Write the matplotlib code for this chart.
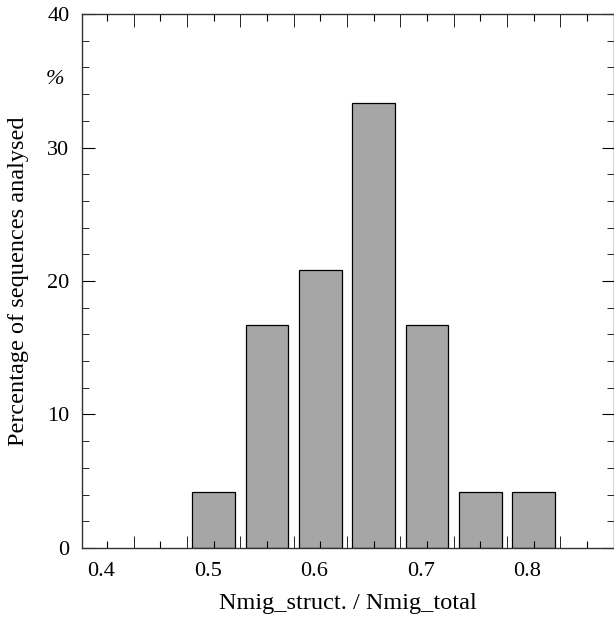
import numpy as np
import matplotlib
matplotlib.use("Agg")
import matplotlib.pyplot as plt
from matplotlib.transforms import ScaledTranslation

# bin centres and share of sequences (%) in each bin
ratio_bins = [0.50, 0.55, 0.60, 0.65, 0.70, 0.75, 0.80]
percent = [4.17, 16.67, 20.83, 33.33, 16.67, 4.17, 4.17]
y_ticks = [0, 10, 20, 30, 40]

plt.rcParams['font.family'] = ['Liberation Serif', 'DejaVu Serif']
plt.rcParams['font.size'] = 16

fig = plt.figure(figsize=(6.14, 6.18), dpi=100)
ax = fig.add_axes([0.1336, 0.1133, 0.8656, 0.864])

ax.bar(ratio_bins, percent, width=0.04, color="#a6a6a6", edgecolor="black", linewidth=0.9)

ax.set_xlim(0.3765, 0.874)
ax.set_ylim(0, 40)

# short ticks at bin centres, longer ones at bin edges
centres = np.round(np.arange(0.40, 0.876, 0.05), 3)
edges = np.round(np.arange(0.425, 0.876, 0.05), 3)
ax.set_xticks(centres)
ax.set_xticklabels([f"{c:.1f}" if abs(c * 10 - round(c * 10)) < 1e-6 else "" for c in centres])
ax.set_xticks(edges, minor=True)
ax.tick_params(axis='x', which='major', direction='in', length=5, top=True, bottom=True, pad=10, labelsize=16)
ax.tick_params(axis='x', which='minor', direction='in', length=9, top=True, bottom=True)

# the original labels sit a little left of their ticks
shift = ScaledTranslation(-6 / 100, 0, fig.dpi_scale_trans)
for lab in ax.get_xticklabels():
    lab.set_transform(lab.get_transform() + shift)

ax.set_yticks(y_ticks)
ax.set_yticks(np.arange(0, 41, 2), minor=True)
ax.tick_params(axis='y', which='major', direction='in', length=9, left=True, right=True, pad=9, labelsize=16)
ax.tick_params(axis='y', which='minor', direction='in', length=5, left=True, right=True)

for s in ax.spines.values():
    s.set_linewidth(1.0)
    s.set_color("#333333")

ax.set_xlabel("Nmig_struct. / Nmig_total", fontsize=17.5, labelpad=9)
ax.set_ylabel("Percentage of sequences analysed", fontsize=17.5, labelpad=13)
fig.text(55 / 614, 1 - 79 / 618, "%", ha='center', va='center', fontsize=16, style='italic')

fig.savefig("out.png", dpi=100)
